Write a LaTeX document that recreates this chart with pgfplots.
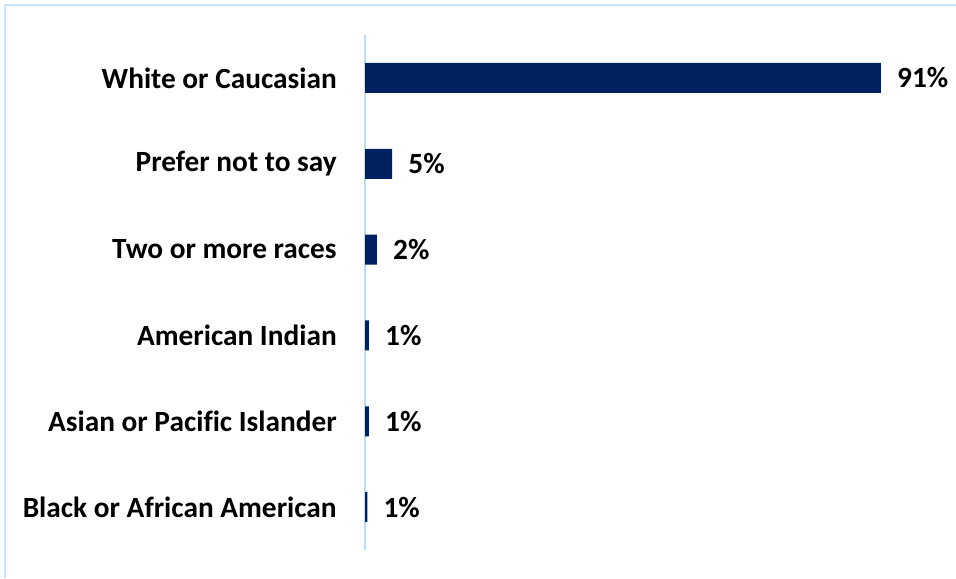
\documentclass[border=0pt]{standalone}
\usepackage{pgfplots}
\pgfplotsset{compat=1.18}
\usepackage{fontspec}
\setmainfont[Ligatures=NoCommon]{Carlito}
\definecolor{barblue}{HTML}{002060}
\definecolor{framel}{HTML}{C9E3FA}
\definecolor{axisl}{HTML}{BDDCF7}
\begin{document}
\begin{tikzpicture}
\useasboundingbox (0,0) rectangle (717pt,433.5pt);
\draw[framel, line width=1.5pt] (4.1pt,0) -- (4.1pt,429.75pt) -- (717pt,429.75pt);
\begin{axis}[
  at={(273.75pt,21pt)}, anchor=south west,
  scale only axis,
  width=425.25pt, height=386.25pt,
  xmin=0, xmax=100,
  ymin=-0.5, ymax=5.5,
  axis x line=none,
  axis y line*=left,
  y axis line style={draw=axisl, line width=1.2pt, -},
  ytick={0,1,2,3,4,5},
  yticklabels={Black or African American, Asian or Pacific Islander, American Indian, Two or more races, Prefer not to say, White or Caucasian},
  major tick length=0pt,
  yticklabel style={font=\bfseries\fontsize{22}{26}\selectfont, text=black, inner sep=0pt, xshift=-21pt},
  xbar, bar width=22.5pt,
  point meta=explicit symbolic,
  nodes near coords,
  every node near coord/.append style={font=\bfseries\fontsize{22}{26}\selectfont, text=black, anchor=west, inner sep=0pt, xshift=12pt},
  clip=false,
]
\addplot[fill=barblue, draw=none] coordinates {
  (0.4,0) [1\%]
  (0.7,1) [1\%]
  (0.7,2) [1\%]
  (2.1,3) [2\%]
  (4.8,4) [5\%]
  (91,5) [91\%]
};
\end{axis}
\end{tikzpicture}
\end{document}
